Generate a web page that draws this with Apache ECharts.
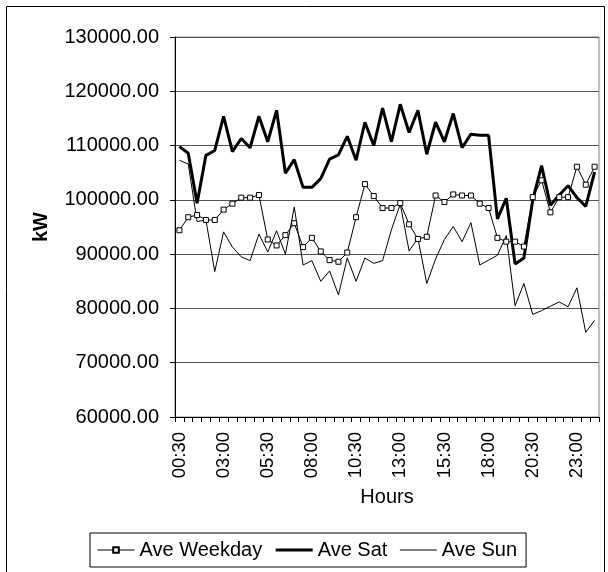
<!DOCTYPE html>
<html>
<head>
<meta charset="utf-8">
<script src="https://cdn.jsdelivr.net/npm/echarts@6/dist/echarts.min.js"></script>
<style>
  html, body { margin: 0; padding: 0; background: #fff; }
  #chart { width: 608px; height: 572px; }
</style>
</head>
<body>
<div id="chart"></div>
<script>
// Half-hourly averages of demand (kW)
const hours = [
  '00:30','01:00','01:30','02:00','02:30','03:00','03:30','04:00','04:30','05:00',
  '05:30','06:00','06:30','07:00','07:30','08:00','08:30','09:00','09:30','10:00',
  '10:30','11:00','11:30','12:00','12:30','13:00','13:30','14:00','14:30','15:00',
  '15:30','16:00','16:30','17:00','17:30','18:00','18:30','19:00','19:30','20:00',
  '20:30','21:00','21:30','22:00','22:30','23:00','23:30','24:00'
];

const aveWeekday = [
  94400, 96800, 97200, 96300, 96300, 98200, 99300, 100400, 100400, 100900,
  92700, 91600, 93500, 95700, 91300, 93000, 90500, 88900, 88600, 90300,
  96800, 102900, 100700, 98500, 98500, 99400, 95500, 92800, 93200, 100800,
  99600, 101000, 100800, 100800, 99300, 98500, 93000, 92300, 92300, 91400,
  100500, 103600, 97700, 100500, 100500, 106100, 102800, 106100
];

const aveSat = [
  109800, 108600, 99400, 108200, 109100, 115400, 108900, 111300, 109600, 115400,
  110700, 116500, 104900, 107400, 102300, 102300, 103900, 107500, 108300, 111700,
  107300, 114300, 110000, 116900, 110700, 117600, 112400, 116500, 108400, 114300,
  110700, 115900, 109600, 112100, 111900, 111900, 96500, 100300, 88200, 89300,
  100000, 106300, 99000, 100900, 102600, 100400, 98800, 105100
];

const aveSun = [
  107300, 106600, 96000, 96300, 86800, 94100, 91300, 89500, 88800, 93700,
  90400, 94300, 90000, 98700, 88000, 88800, 85000, 86900, 82500, 89300,
  85000, 89300, 88300, 88800, 94500, 99200, 90600, 92900, 84600, 89100,
  92700, 95100, 92300, 95800, 88000, 88900, 89800, 93400, 80500, 84600,
  78900, 79600, 80400, 81200, 80300, 83800, 75600, 77800
];

const yTicks = { min: 60000, max: 130000, step: 10000 };

const FONT = "'Liberation Sans', Arial, sans-serif";

const chart = echarts.init(document.getElementById('chart'), null, { renderer: 'canvas' });

chart.setOption({
  animation: false,
  backgroundColor: '#fff',
  grid: {
    left: 175, right: 9, top: 37, bottom: 155,
    show: true, borderColor: '#808080', borderWidth: 1, backgroundColor: 'transparent'
  },
  graphic: [
    {
      type: 'rect', silent: true, z: -1,
      shape: { x: 6.5, y: 6.5, width: 598, height: 620 },
      style: { fill: 'none', stroke: '#000', lineWidth: 1 }
    },
    {
      type: 'text', x: 41, y: 227, rotation: Math.PI / 2,
      style: { text: 'kW', font: "bold 20px " + FONT, fill: '#000', textAlign: 'center', textVerticalAlign: 'middle' }
    },
    {
      type: 'text', x: 387, y: 497,
      style: { text: 'Hours', font: "20px " + FONT, fill: '#000', textAlign: 'center', textVerticalAlign: 'middle' }
    }
  ],
  legend: {
    left: 90, top: 533,
    padding: [7, 9, 7, 7],
    borderColor: '#000', borderWidth: 1,
    itemGap: 12, itemWidth: 37, itemHeight: 7,
    textStyle: { fontFamily: FONT, fontSize: 20, color: '#000' },
    data: [
      { name: 'Ave Weekday', lineStyle: { width: 1 } },
      // plain line keys: hide the marker the legend adds for symbol-less lines
      { name: 'Ave Sat', lineStyle: { width: 3 }, itemStyle: { opacity: 0 } },
      { name: 'Ave Sun', lineStyle: { width: 1 }, itemStyle: { opacity: 0 } }
    ]
  },
  xAxis: {
    type: 'category',
    data: hours,
    boundaryGap: true,
    axisLine: { show: true, lineStyle: { color: '#000', width: 1 } },
    axisTick: { show: true, interval: 0, length: 5, lineStyle: { color: '#000' } },
    axisLabel: {
      interval: 4, rotate: 90, margin: 15,
      fontFamily: FONT, fontSize: 18.5, color: '#000'
    },
    splitLine: { show: false }
  },
  yAxis: {
    type: 'value',
    min: yTicks.min, max: yTicks.max, interval: yTicks.step,
    axisLine: { show: true, lineStyle: { color: '#000', width: 1 } },
    axisTick: { show: true, length: 5, lineStyle: { color: '#000' } },
    axisLabel: {
      margin: 16, fontFamily: FONT, fontSize: 20, color: '#000',
      formatter: v => v.toFixed(2)
    },
    splitLine: { show: true, lineStyle: { color: '#555', width: 1 } }
  },
  series: [
    {
      name: 'Ave Weekday', type: 'line', data: aveWeekday,
      symbol: 'rect', symbolSize: 5, showAllSymbol: true,
      lineStyle: { color: '#000', width: 1 },
      itemStyle: { color: '#fff', borderColor: '#000', borderWidth: 1 }
    },
    {
      name: 'Ave Sat', type: 'line', data: aveSat,
      symbol: 'none',
      lineStyle: { color: '#000', width: 3 },
      itemStyle: { color: '#000' }
    },
    {
      name: 'Ave Sun', type: 'line', data: aveSun,
      symbol: 'none',
      lineStyle: { color: '#000', width: 1 },
      itemStyle: { color: '#000' }
    }
  ]
});
</script>
</body>
</html>
